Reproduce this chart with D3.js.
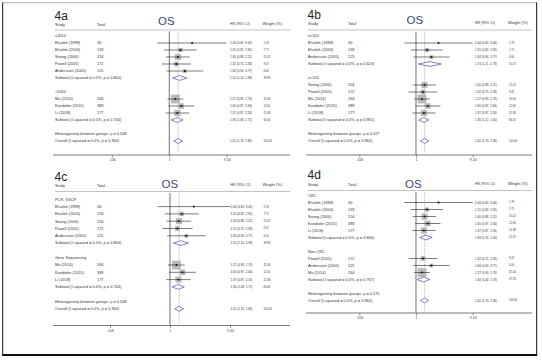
<!DOCTYPE html>
<html>
<head>
<meta charset="utf-8">
<script src="https://cdn.jsdelivr.net/npm/d3@7"></script>
<style>
  html, body { margin: 0; padding: 0; background: #fff; }
  svg text { font-family: "Liberation Sans", Arial, sans-serif; }
</style>
</head>
<body>
<div id="chart"></div>
<script>
// study level data (same studies in every panel, only grouping differs)
const studies = ["Elsaleh (1999)", "Elsaleh (2000)", "Soong (2000)", "Powell (2001)", "Andersson (2005)", "Ma (2014)", "Kandioler (2015)", "Li (2018)"];
const totals = [30, 133, 154, 172, 125, 264, 389, 177];
const hr = [2.44, 1.55, 1.40, 1.32, 1.84, 1.27, 1.60, 1.37];
const lower = [0.63, 0.82, 0.88, 0.75, 0.90, 0.93, 0.97, 0.87];
const upper = [9.44, 2.92, 2.21, 2.33, 3.77, 1.73, 2.64, 2.16];
const weights = [1.76, 7.71, 15.02, 9.47, 6.00, 32.06, 12.60, 15.38];

// panels and their subgroups
const panelTitles = ["4a", "4b", "4c", "4d"];
const groupLabels = [["≤2010", ">2010"], ["n<150", "n>150"], ["PCR- SSCP", "Gene Sequencing"], ["CRC", "Non-CRC"]];
const groupStudies = [[[0, 1, 2, 3, 4], [5, 6, 7]], [[0, 1, 4], [2, 3, 5, 6, 7]], [[0, 1, 2, 3, 4], [5, 6, 7]], [[0, 1, 2, 6, 7], [3, 4, 5]]];
const subtotalHR = [[1.50, 1.36], [1.74, 1.36], [1.50, 1.36], [1.49, 1.34]];
const subtotalLower = [[1.14, 1.08], [1.11, 1.12], [1.14, 1.08], [1.16, 1.04]];
const subtotalUpper = [[1.99, 1.71], [2.73, 1.65], [1.99, 1.71], [1.90, 1.73]];
const subtotalP = [["0.864", "0.744"], ["0.623", "0.961"], ["0.864", "0.744"], ["0.840", "0.767"]];
const betweenP = ["0.508", "0.327", "0.508", "0.575"];
const overallHR = 1.41, overallLower = 1.19, overallUpper = 1.66;
const overallP = "0.960";

// axis
const axisTicks = [0.106, 1, 9.44];
const axisLabels = [".106", "1", "9.44"];

// where each panel sits on the page
const layout = [
    {x0: 55, xTotal: 97, xLeft: 111.9, xRight: 226.7, xHR: 230, xW: 263.5, xEnd: 290, xOS: 158,
     titleY: 20, headY: 26, osY: 25, lineY: 30, row0: 36, step: 7, axisY: 155},
    {x0: 308, xTotal: 348, xLeft: 359.3, xRight: 472.7, xHR: 475, xW: 509, xEnd: 532, xOS: 406.5,
     titleY: 18.5, headY: 24.5, osY: 24, lineY: 30, row0: 36, step: 7, axisY: 155},
    {x0: 55, xTotal: 97, xLeft: 110, xRight: 230, xHR: 230.5, xW: 263.5, xEnd: 290, xOS: 161.5,
     titleY: 181, headY: 187, osY: 188, lineY: 191.5, row0: 199.3, step: 7.3, axisY: 325.5},
    {x0: 308, xTotal: 348, xLeft: 359.3, xRight: 472.7, xHR: 475, xW: 509, xEnd: 532, xOS: 405,
     titleY: 178.5, headY: 186, osY: 187.5, lineY: 190.5, row0: 195.5, step: 7, axisY: 313}
];

const width = 542, height = 361;
const f2 = d3.format(".2f");
const ciText = (h, l, u) => `${f2(h)} (${f2(l)}, ${f2(u)})`;

const svg = d3.select("#chart").append("svg")
    .attr("width", width)
    .attr("height", height)
    .attr("viewBox", [0, 0, width, height]);

// outer frame
svg.append("line").attr("x1", 2.5).attr("x2", 537).attr("y1", 2.7).attr("y2", 2.7).attr("stroke", "#999").attr("stroke-width", 0.8);
svg.append("line").attr("x1", 2.7).attr("x2", 2.7).attr("y1", 2.5).attr("y2", 356).attr("stroke", "#111").attr("stroke-width", 1);
svg.append("line").attr("x1", 536.7).attr("x2", 536.7).attr("y1", 2.5).attr("y2", 356).attr("stroke", "#111").attr("stroke-width", 1);
svg.append("line").attr("x1", 2.5).attr("x2", 537).attr("y1", 355).attr("y2", 355).attr("stroke", "#111").attr("stroke-width", 2);

function drawPanel(p) {
    const L = layout[p];
    const g = svg.append("g");
    const x = d3.scaleLog().domain([axisTicks[0], axisTicks[2]]).range([L.xLeft, L.xRight]);
    const y = i => L.row0 + L.step * i;

    // build the row list
    const rows = [];
    groupStudies[p].forEach((members, k) => {
        rows.push({type: "group", label: groupLabels[p][k]});
        members.forEach(s => rows.push({type: "study", s}));
        rows.push({type: "sub", k, w: d3.sum(members, s => weights[s])});
        rows.push({type: "blank"});
    });
    rows.push({type: "het"});
    rows.push({type: "overall"});
    rows.forEach((r, i) => r.y = y(i));

    // headers
    g.append("text").attr("x", L.x0 - 0.5).attr("y", L.titleY).attr("font-size", 12).attr("fill", "#222").text(panelTitles[p]);
    g.append("text").attr("x", L.x0).attr("y", L.headY).attr("font-size", 3.9).attr("fill", "#333").text("Study");
    g.append("text").attr("x", L.xTotal).attr("y", L.headY).attr("font-size", 3.9).attr("fill", "#333").text("Total");
    g.append("text").attr("x", L.xOS).attr("y", L.osY).attr("font-size", 11.5).attr("fill", "#3b4a7a").text("OS");
    g.append("text").attr("x", L.xHR).attr("y", L.headY - 1).attr("font-size", 3.5).attr("fill", "#333").text("HR (95% CI)");
    g.append("text").attr("x", L.xW - 1).attr("y", L.headY - 1).attr("font-size", 4).attr("fill", "#333").text("Weight (%)");
    g.append("line").attr("x1", L.x0).attr("x2", L.xEnd).attr("y1", L.lineY).attr("y2", L.lineY)
        .attr("stroke", "#999").attr("stroke-width", 0.6);

    // null line and overall dashed line
    g.append("line").attr("x1", x(1)).attr("x2", x(1)).attr("y1", L.lineY + 1.5).attr("y2", L.axisY)
        .attr("stroke", "#333").attr("stroke-width", 0.7);
    g.append("line").attr("x1", x(overallHR)).attr("x2", x(overallHR)).attr("y1", L.lineY + 1.5).attr("y2", L.axisY - 2)
        .attr("stroke", "#b06a6a").attr("stroke-width", 0.6).attr("stroke-dasharray", "1,1");

    const label = (r, t) => g.append("text").attr("x", L.x0).attr("y", r.y).attr("dy", "0.35em")
        .attr("font-size", 3.9).attr("fill", "#333").text(t);
    const right = (r, t, w) => {
        g.append("text").attr("x", L.xHR).attr("y", r.y).attr("dy", "0.35em").attr("font-size", 3).attr("fill", "#333").text(t);
        if (w !== undefined)
            g.append("text").attr("x", L.xW).attr("y", r.y).attr("dy", "0.35em").attr("font-size", 2.7).attr("fill", "#333").text(w);
    };
    const diamond = (r, h, l, u) => g.append("path")
        .attr("d", `M${x(l)},${r.y}L${x(h)},${r.y - 2.4}L${x(u)},${r.y}L${x(h)},${r.y + 2.4}Z`)
        .attr("fill", "#fff").attr("stroke", "#4a4aa8").attr("stroke-width", 0.7);

    rows.forEach(r => {
        if (r.type === "group") label(r, r.label);
        if (r.type === "study") {
            const s = r.s;
            label(r, studies[s]);
            g.append("text").attr("x", L.xTotal).attr("y", r.y).attr("dy", "0.35em").attr("font-size", 3.9).attr("fill", "#333").text(totals[s]);
            const side = 1.55 * Math.sqrt(weights[s]);
            g.append("rect").attr("x", x(hr[s]) - side / 2).attr("y", r.y - side / 2)
                .attr("width", side).attr("height", side).attr("fill", "#b9b9b9");
            g.append("line").attr("x1", x(lower[s])).attr("x2", x(upper[s])).attr("y1", r.y).attr("y2", r.y)
                .attr("stroke", "#222").attr("stroke-width", 0.6);
            g.append("circle").attr("cx", x(hr[s])).attr("cy", r.y).attr("r", 0.9).attr("fill", "#111");
            right(r, ciText(hr[s], lower[s], upper[s]), f2(weights[s]));
        }
        if (r.type === "sub") {
            label(r, `Subtotal  (I-squared = 0.0%, p = ${subtotalP[p][r.k]})`);
            diamond(r, subtotalHR[p][r.k], subtotalLower[p][r.k], subtotalUpper[p][r.k]);
            right(r, ciText(subtotalHR[p][r.k], subtotalLower[p][r.k], subtotalUpper[p][r.k]), f2(r.w));
        }
        if (r.type === "het") label(r, `Heterogeneity between groups: p = ${betweenP[p]}`);
        if (r.type === "overall") {
            label(r, `Overall  (I-squared = 0.0%, p = ${overallP})`);
            diamond(r, overallHR, overallLower, overallUpper);
            right(r, ciText(overallHR, overallLower, overallUpper), "100.00");
        }
    });

    // axis
    g.append("line").attr("x1", L.x0 - 2).attr("x2", L.xEnd).attr("y1", L.axisY).attr("y2", L.axisY)
        .attr("stroke", "#555").attr("stroke-width", 0.8);
    g.append("g")
        .attr("transform", `translate(0,${L.axisY})`)
        .call(d3.axisBottom(x).tickValues(axisTicks).tickFormat((d, i) => axisLabels[i]).tickSize(2.5).tickPadding(1.5))
        .call(a => a.select(".domain").remove())
        .call(a => a.selectAll(".tick line").attr("stroke", "#555").attr("stroke-width", 0.6))
        .call(a => a.selectAll(".tick text").attr("font-size", 3.5).attr("fill", "#444")
            .attr("font-family", "Liberation Sans, Arial, sans-serif"));
}

panelTitles.forEach((t, p) => drawPanel(p));
</script>
</body>
</html>
